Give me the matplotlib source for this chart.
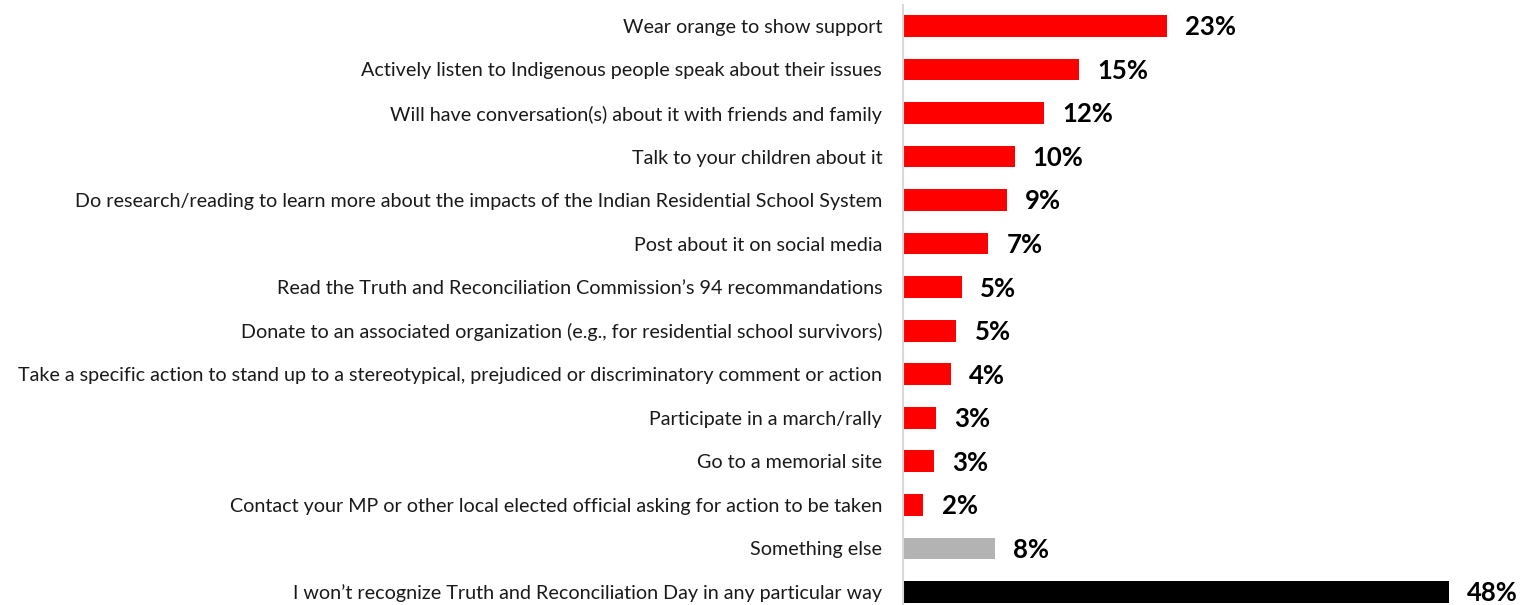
import matplotlib
matplotlib.use("Agg")
from matplotlib import pyplot as plt

categories = [
    "Wear orange to show support",
    "Actively listen to Indigenous people speak about their issues",
    "Will have conversation(s) about it with friends and family",
    "Talk to your children about it",
    "Do research/reading to learn more about the impacts of the Indian Residential School System",
    "Post about it on social media",
    "Read the Truth and Reconciliation Commission\u2019s 94 recommandations",
    "Donate to an associated organization (e.g., for residential school survivors)",
    "Take a specific action to stand up to a stereotypical, prejudiced or discriminatory comment or action",
    "Participate in a march/rally",
    "Go to a memorial site",
    "Contact your MP or other local elected official asking for action to be taken",
    "Something else",
    "I won\u2019t recognize Truth and Reconciliation Day in any particular way",
]
values = [23.2, 15.5, 12.4, 9.8, 9.1, 7.5, 5.2, 4.7, 4.2, 2.9, 2.7, 1.8, 8.1, 48.0]
value_labels = ["23%", "15%", "12%", "10%", "9%", "7%", "5%", "5%", "4%",
                "3%", "3%", "2%", "8%", "48%"]
colors = ["#ff0000"] * 12 + ["#b3b3b3", "#000000"]

plt.rcParams['font.family'] = ['Lato', 'DejaVu Sans']

fig = plt.figure(figsize=(15.21, 6.05), dpi=100)
ax = fig.add_axes([903 / 1521, 0, 618 / 1521, 600 / 605])

pos = list(range(len(categories)))
ax.barh(pos, values, height=0.5, color=colors)
for p, v, lab in zip(pos, values, value_labels):
    ax.annotate(lab, (v, p), xytext=(13, -1), textcoords='offset points',
                va='center', ha='left', fontsize=18.5, fontweight='bold')

ax.set_xlim(0, 54.3)
ax.set_ylim(13.3, -0.48)
ax.set_yticks(pos)
ax.set_yticklabels(categories, fontsize=14.2, color='#1a1a1a')
ax.tick_params(axis='y', length=0, pad=15)
ax.set_xticks([])
for side in ['top', 'right', 'bottom']:
    ax.spines[side].set_visible(False)
ax.spines['left'].set_color('#d9d9d9')
ax.spines['left'].set_linewidth(1.5)

fig.savefig("out.png", dpi=100)
